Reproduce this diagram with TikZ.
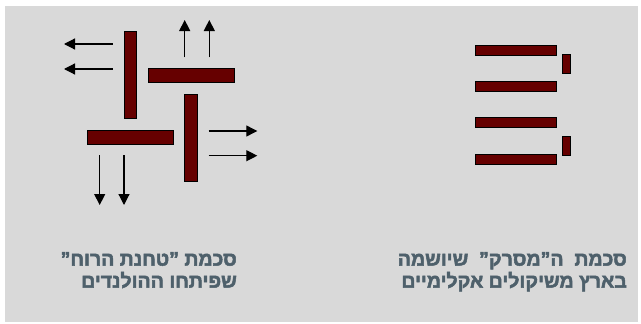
\documentclass[tikz,border=0pt]{standalone}
\usepackage{fontspec}
\setmainfont{Liberation Sans}
\newfontfamily\hebfont[Script=Hebrew,FakeBold=2.5]{Liberation Sans Bold}
\TeXXeTstate=1
\usetikzlibrary{arrows.meta}
\definecolor{bg}{HTML}{D9D9D9}
\definecolor{barred}{HTML}{660000}
\definecolor{txtc}{HTML}{4E606B}
\begin{document}
\begin{tikzpicture}[x=1pt,y=-1pt,
  bar/.style={draw=black,line width=0.9pt,fill=barred,inner sep=0pt,outer sep=0pt},
  arr/.style={draw=black,line width=1.2pt,-{Triangle[length=11pt,width=11pt]}},
  lbl/.style={text=txtc,font=\hebfont\fontsize{19.5}{22}\selectfont,align=right,anchor=north east,inner sep=0pt}]
\useasboundingbox (0,0) rectangle (641,324);
\fill[bg] (5,6) rectangle (638,322);
% left figure bars
\node[bar,minimum width=12.5pt,minimum height=87pt] (v1) at (130.3,75.3) {};
\node[bar,minimum width=86pt,minimum height=13.3pt] (h1) at (191,75.3) {};
\node[bar,minimum width=13.3pt,minimum height=87pt] (v2) at (191,137.5) {};
\node[bar,minimum width=86pt,minimum height=13.3pt] (h2) at (130.3,137.3) {};
% arrows
\coordinate (la1s) at (112.7,44); \coordinate (la1e) at (64,44);
\coordinate (la2s) at (112.7,69); \coordinate (la2e) at (64,69);
\coordinate (ua1s) at (184.7,57.3); \coordinate (ua1e) at (184.7,20);
\coordinate (ua2s) at (209.3,57.3); \coordinate (ua2e) at (209.3,20);
\coordinate (ra1s) at (208.7,131); \coordinate (ra1e) at (257.3,131);
\coordinate (ra2s) at (208.7,155.7); \coordinate (ra2e) at (257.3,155.7);
\coordinate (da1s) at (99.7,155); \coordinate (da1e) at (99.7,205);
\coordinate (da2s) at (124,155); \coordinate (da2e) at (124,205);
\draw[arr] (la1s) -- (la1e);
\draw[arr] (la2s) -- (la2e);
\draw[arr] (ua1s) -- (ua1e);
\draw[arr] (ua2s) -- (ua2e);
\draw[arr] (ra1s) -- (ra1e);
\draw[arr] (ra2s) -- (ra2e);
\draw[arr] (da1s) -- (da1e);
\draw[arr] (da2s) -- (da2e);
% right figure
\node[bar,minimum width=81pt,minimum height=10pt] (c1) at (515.8,50.7) {};
\node[bar,minimum width=81pt,minimum height=10pt] (c2) at (515.8,86.9) {};
\node[bar,minimum width=81pt,minimum height=10pt] (c3) at (515.8,122.9) {};
\node[bar,minimum width=81pt,minimum height=10pt] (c4) at (515.8,159.2) {};
\node[bar,minimum width=8.4pt,minimum height=19.4pt] (s1) at (566.5,64) {};
\node[bar,minimum width=8.4pt,minimum height=19.3pt] (s2) at (566.5,145.7) {};
% labels
\node[lbl] (lt) at (237,252) {\beginR סכמת ”טחנת הרוח”\endR\\\beginR שפיתחו ההולנדים\endR};
\node[lbl] (rt) at (627,252) {\beginR סכמת \ ה”מסרק” \ שיושמה\endR\\\beginR בארץ משיקולים אקלימיים\endR};
\end{tikzpicture}
\end{document}
